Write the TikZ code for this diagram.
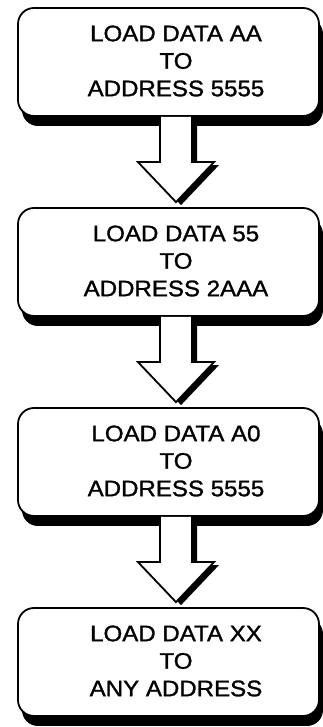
\documentclass[tikz,border=0pt]{standalone}
\usepackage{fontspec}
\setmainfont{Liberation Sans}[FakeStretch=1.07,FakeBold=1.3]
\usetikzlibrary{calc,shadows}
\tikzset{
  box/.style={draw, line width=1.8pt, rounded corners=16pt, fill=white, minimum width=301pt, minimum height=108pt,
    drop shadow={shadow xshift=4pt, shadow yshift=-10pt, fill=black, opacity=1}},
  boxtext/.style={align=center, inner sep=0pt, font=\fontsize{22.5}{27.5}\selectfont},
  fatarrow/.style={line width=1.8pt, fill=white, line join=miter,
    drop shadow={shadow xshift=5pt, shadow yshift=-3pt, fill=black, opacity=1}}
}

\begin{document}
\begin{tikzpicture}[x=1pt,y=1pt]
\useasboundingbox (0,0) rectangle (323,727);

%boxes
\node[box] (b1) at (168.5,665) {};
\node[box] (b2) at (168.5,465) {};
\node[box] (b3) at (168.5,265) {};
\node[box] (b4) at (168.5,65) {};

\node[boxtext] (t1) at (176,666) {LOAD DATA AA\\TO\\ADDRESS 5555};
\node[boxtext] (t2) at (176,466) {LOAD DATA 55\\TO\\ADDRESS 2AAA};
\node[boxtext] (t3) at (176,266) {LOAD DATA A0\\TO\\ADDRESS 5555};
\node[boxtext] (t4) at (176,66) {LOAD DATA XX\\TO\\ANY ADDRESS};

%arrows
\draw[fatarrow] ($(t1|-b1.south)+(-16,0)$) -- ($(t2|-b2.north)+(-16,45)$) -- ($(t2|-b2.north)+(-38,45)$)
  -- ($(t2|-b2.north)+(0,5)$) -- ($(t2|-b2.north)+(38,45)$) -- ($(t2|-b2.north)+(16,45)$) -- ($(t1|-b1.south)+(16,0)$);
\draw[fatarrow] ($(t2|-b2.south)+(-16,0)$) -- ($(t3|-b3.north)+(-16,45)$) -- ($(t3|-b3.north)+(-38,45)$)
  -- ($(t3|-b3.north)+(0,5)$) -- ($(t3|-b3.north)+(38,45)$) -- ($(t3|-b3.north)+(16,45)$) -- ($(t2|-b2.south)+(16,0)$);
\draw[fatarrow] ($(t3|-b3.south)+(-16,0)$) -- ($(t4|-b4.north)+(-16,45)$) -- ($(t4|-b4.north)+(-38,45)$)
  -- ($(t4|-b4.north)+(0,5)$) -- ($(t4|-b4.north)+(38,45)$) -- ($(t4|-b4.north)+(16,45)$) -- ($(t3|-b3.south)+(16,0)$);
\end{tikzpicture}
\end{document}
